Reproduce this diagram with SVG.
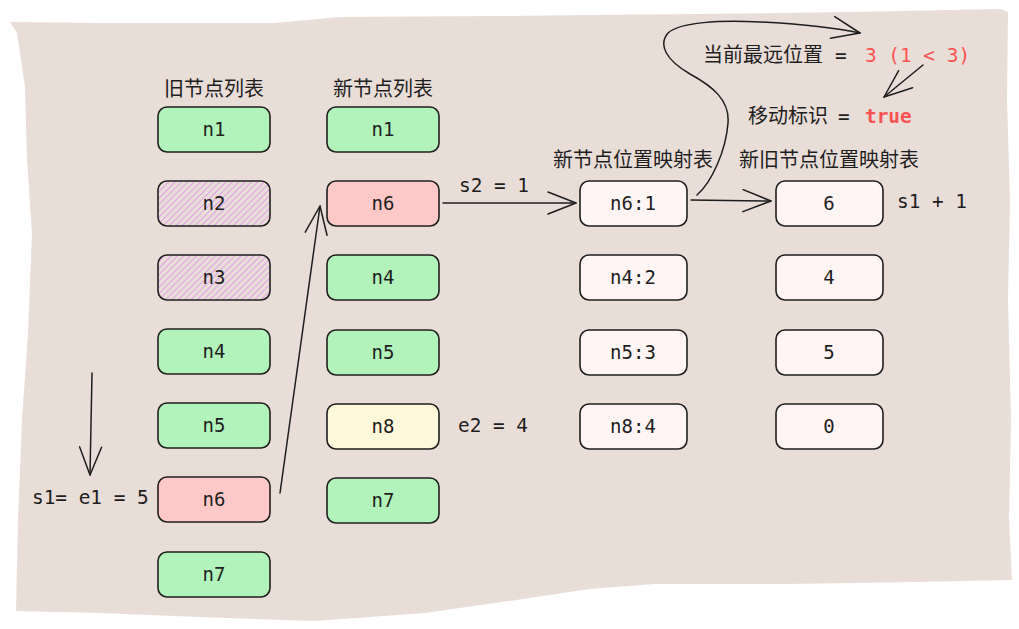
<svg xmlns="http://www.w3.org/2000/svg" width="1019" height="629" viewBox="0 0 1019 629">
<defs>
<pattern id="hatch" width="4.5" height="4.5" patternUnits="userSpaceOnUse" patternTransform="rotate(45)">
<rect width="4.5" height="4.5" fill="#e9ddd8"/>
<line x1="0" y1="0" x2="0" y2="4.5" stroke="#da77f2" stroke-width="1.5" stroke-opacity="0.8"/>
</pattern>
<marker id="ah" viewBox="0 0 30 24" refX="29" refY="12" markerWidth="30" markerHeight="24" markerUnits="userSpaceOnUse" orient="auto">
<path d="M1,1 L29,12 L1,23" fill="none" stroke="#1e1e1e" stroke-width="1.5" stroke-linecap="round" stroke-linejoin="round"/>
</marker>
</defs>
<style>
.box{stroke:#1e1e1e;stroke-width:1.6}
.g{fill:#b2f2bb}.r{fill:#ffc9c9}.y{fill:#fff9db}.w{fill:#fff5f5}.h{fill:url(#hatch)}
.lbl{font-family:"DejaVu Sans Mono","Liberation Mono",monospace;font-size:19px;fill:#1e1e1e;text-anchor:middle}
.mono{font-family:"DejaVu Sans Mono","Liberation Mono",monospace;font-size:19.4px;fill:#1e1e1e}
.red{fill:#fa5252}
.cjk{font-family:"Noto Sans CJK SC",sans-serif;font-size:20px;fill:#1e1e1e}
.c{text-anchor:middle}
.ln{fill:none;stroke:#1e1e1e;stroke-width:1.5;stroke-linecap:round;stroke-linejoin:round}
</style>
<rect width="1019" height="629" fill="#ffffff"/>
<path d="M10,22 L100,23 L275,23 L340,17 L500,16 L590,15 L700,14 L850,12 L1001,9 L1008,12 L1007,100 L1010,200 L1008,300 L1011,420 L1009,520 L1012,580 L916,582 L785,584 L654,584 L589,589 L523,599 L425,613 L314,621 L200,617 L100,613 L16,611 L18,520 L22,420 L28,333 L32,233 L27,160 L25,87 L17,33 Z" fill="#e9ddd8"/>

<g id="headers">
<text class="cjk c" x="214" y="96">旧节点列表</text>
<text class="cjk c" x="383" y="96">新节点列表</text>
<text class="cjk c" x="633" y="167">新节点位置映射表</text>
<text class="cjk c" x="829" y="167">新旧节点位置映射表</text>
</g>

<g id="old-n1"><rect class="box g" x="158" y="107" width="112" height="45" rx="9"/><text class="lbl" x="214" y="136">n1</text></g>
<g id="old-n2"><rect class="box h" x="158" y="181" width="112" height="45" rx="9"/><text class="lbl" x="214" y="210">n2</text></g>
<g id="old-n3"><rect class="box h" x="158" y="255" width="112" height="45" rx="9"/><text class="lbl" x="214" y="284">n3</text></g>
<g id="old-n4"><rect class="box g" x="158" y="329" width="112" height="45" rx="9"/><text class="lbl" x="214" y="358">n4</text></g>
<g id="old-n5"><rect class="box g" x="158" y="403" width="112" height="45" rx="9"/><text class="lbl" x="214" y="432">n5</text></g>
<g id="old-n6"><rect class="box r" x="158" y="477" width="112" height="45" rx="9"/><text class="lbl" x="214" y="506">n6</text></g>
<g id="old-n7"><rect class="box g" x="158" y="552" width="112" height="45" rx="9"/><text class="lbl" x="214" y="581">n7</text></g>

<g id="new-n1"><rect class="box g" x="327" y="107" width="112" height="45" rx="9"/><text class="lbl" x="383" y="136">n1</text></g>
<g id="new-n6"><rect class="box r" x="327" y="181" width="112" height="45" rx="9"/><text class="lbl" x="383" y="210">n6</text></g>
<g id="new-n4"><rect class="box g" x="327" y="255" width="112" height="45" rx="9"/><text class="lbl" x="383" y="284">n4</text></g>
<g id="new-n5"><rect class="box g" x="327" y="330" width="112" height="45" rx="9"/><text class="lbl" x="383" y="359">n5</text></g>
<g id="new-n8"><rect class="box y" x="327" y="404" width="112" height="45" rx="9"/><text class="lbl" x="383" y="433">n8</text></g>
<g id="new-n7"><rect class="box g" x="327" y="478" width="112" height="45" rx="9"/><text class="lbl" x="383" y="507">n7</text></g>

<g id="map-n6"><rect class="box w" x="580" y="181" width="107" height="45" rx="9"/><text class="lbl" x="633" y="210">n6:1</text></g>
<g id="map-n4"><rect class="box w" x="580" y="255" width="107" height="45" rx="9"/><text class="lbl" x="633" y="284">n4:2</text></g>
<g id="map-n5"><rect class="box w" x="580" y="330" width="107" height="45" rx="9"/><text class="lbl" x="633" y="359">n5:3</text></g>
<g id="map-n8"><rect class="box w" x="580" y="404" width="107" height="45" rx="9"/><text class="lbl" x="633" y="433">n8:4</text></g>

<g id="idx-6"><rect class="box w" x="776" y="181" width="107" height="45" rx="9"/><text class="lbl" x="829" y="210">6</text></g>
<g id="idx-4"><rect class="box w" x="776" y="255" width="107" height="45" rx="9"/><text class="lbl" x="829" y="284">4</text></g>
<g id="idx-5"><rect class="box w" x="776" y="330" width="107" height="45" rx="9"/><text class="lbl" x="829" y="359">5</text></g>
<g id="idx-0"><rect class="box w" x="776" y="404" width="107" height="45" rx="9"/><text class="lbl" x="829" y="433">0</text></g>

<g id="labels">
<text class="mono" x="459" y="192">s2 = 1</text>
<text class="mono" x="897" y="208">s1 + 1</text>
<text class="mono" x="458" y="432">e2 = 4</text>
<text class="mono" x="32" y="504">s1= e1 = 5</text>
<text x="703" y="62"><tspan class="cjk">当前最远位置</tspan><tspan class="mono" x="835">=</tspan><tspan class="mono red" x="865">3 (1 &lt; 3)</tspan></text>
<text x="748" y="123"><tspan class="cjk">移动标识</tspan><tspan class="mono" x="838">=</tspan><tspan class="mono red" x="865" font-weight="bold">true</tspan></text>
</g>

<g id="connectors">
<path class="ln" d="M92,373 L90,475" marker-end="url(#ah)"/>
<path class="ln" d="M280,493 L320,206" marker-end="url(#ah)"/>
<path class="ln" d="M443,203 L576,203" marker-end="url(#ah)"/>
<path class="ln" d="M691,200 L771,201" marker-end="url(#ah)"/>
<path class="ln" d="M697,195 C712,182 726,150 728,123 C730,100 712,86 690,74 C666,60 658,45 668,33 C680,22 720,20 760,22 C800,24 835,28 860,33" marker-end="url(#ah)"/>
<path class="ln" d="M923,65 L884,97" marker-end="url(#ah)"/>
</g>
</svg>
